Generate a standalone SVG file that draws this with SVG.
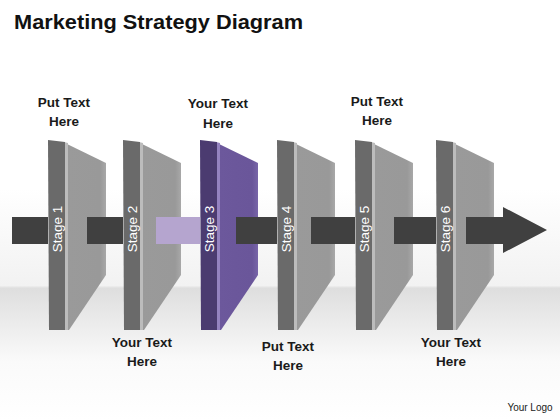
<svg xmlns="http://www.w3.org/2000/svg" width="560" height="420" viewBox="0 0 560 420">
<style>
.lbl{font-family:"Liberation Sans",Arial,sans-serif;font-weight:bold;font-size:13.5px;fill:#1a1a1a;text-anchor:middle}
.stg{font-family:"Liberation Sans",Arial,sans-serif;font-size:13.5px;fill:#ffffff;text-anchor:middle}
.bar{fill:#404040}
.strip{fill:#6a6a6a}
.hl{fill:#bcbcbc}
.face{fill:url(#gface)}
.pstrip{fill:#4b3b70}
.phl{fill:#9583c0}
.pface{fill:url(#gpface)}
</style>
<defs>
<linearGradient id="gbg" x1="0" y1="0" x2="0" y2="1">
<stop offset="0" stop-color="#ffffff"/>
<stop offset="0.45" stop-color="#ffffff"/>
<stop offset="0.68" stop-color="#f2f2f2"/>
<stop offset="0.686" stop-color="#dedede"/>
<stop offset="0.86" stop-color="#fafafa"/>
<stop offset="1" stop-color="#ffffff"/>
</linearGradient>
<linearGradient id="gface" x1="0" y1="0" x2="1" y2="0">
<stop offset="0" stop-color="#9a9a9a"/>
<stop offset="0.85" stop-color="#999999"/>
<stop offset="1" stop-color="#a8a8a8"/>
</linearGradient>
<linearGradient id="gpface" x1="0" y1="0" x2="1" y2="0">
<stop offset="0" stop-color="#6c589c"/>
<stop offset="0.85" stop-color="#6a569a"/>
<stop offset="1" stop-color="#7865a8"/>
</linearGradient>
<g id="panel">
<polygon class="face" points="19,144 58,163 58,275 21,330 19,330"/>
<polygon class="hl" points="16,142 20,143 20,330 16,330"/>
<polygon class="strip" points="0,140 17,142 17,330 1,330"/>
</g>
<g id="ppanel">
<polygon class="pface" points="19,144 58,163 58,275 21,330 19,330"/>
<polygon class="phl" points="16,142 20,143 20,330 16,330"/>
<polygon class="pstrip" points="0,140 17,142 17,330 1,330"/>
</g>
</defs>
<rect x="0" y="0" width="560" height="420" fill="url(#gbg)"/>
<text x="14" y="29" font-family="'Liberation Sans',Arial,sans-serif" font-weight="bold" font-size="20" fill="#111" textLength="289" lengthAdjust="spacingAndGlyphs">Marketing Strategy Diagram</text>

<g id="stage1"><use href="#panel" x="48"/><text class="stg" transform="translate(62,229) rotate(-90)">Stage 1</text></g>
<g id="stage2"><use href="#panel" x="123"/><text class="stg" transform="translate(137,229) rotate(-90)">Stage 2</text></g>
<g id="stage3"><use href="#ppanel" x="200"/><text class="stg" transform="translate(214,229) rotate(-90)">Stage 3</text></g>
<g id="stage4"><use href="#panel" x="277"/><text class="stg" transform="translate(291,229) rotate(-90)">Stage 4</text></g>
<g id="stage5"><use href="#panel" x="355"/><text class="stg" transform="translate(369,229) rotate(-90)">Stage 5</text></g>
<g id="stage6"><use href="#panel" x="436"/><text class="stg" transform="translate(450,229) rotate(-90)">Stage 6</text></g>

<g id="connectors">
<rect class="bar" x="12" y="217" width="36" height="27"/>
<rect class="bar" x="87" y="217" width="36" height="27"/>
<rect x="156" y="217" width="44" height="27" fill="#b5a5cf"/>
<rect class="bar" x="236" y="217" width="41" height="27"/>
<rect class="bar" x="311" y="217" width="44" height="27"/>
<rect class="bar" x="394" y="217" width="42" height="27"/>
<polygon class="bar" points="466,217 503,217 503,207 547,230 503,253 503,244 466,244"/>
</g>

<g id="labels">
<text class="lbl" x="64" y="107">Put Text</text>
<text class="lbl" x="64" y="126">Here</text>
<text class="lbl" x="218" y="108">Your Text</text>
<text class="lbl" x="218" y="128">Here</text>
<text class="lbl" x="377" y="106">Put Text</text>
<text class="lbl" x="377" y="125">Here</text>
<text class="lbl" x="142" y="347">Your Text</text>
<text class="lbl" x="142" y="366">Here</text>
<text class="lbl" x="288" y="351">Put Text</text>
<text class="lbl" x="288" y="370">Here</text>
<text class="lbl" x="451" y="347">Your Text</text>
<text class="lbl" x="451" y="366">Here</text>
</g>
<text x="530" y="411" font-family="'Liberation Sans',Arial,sans-serif" font-size="10" fill="#222" text-anchor="middle">Your Logo</text>
</svg>
